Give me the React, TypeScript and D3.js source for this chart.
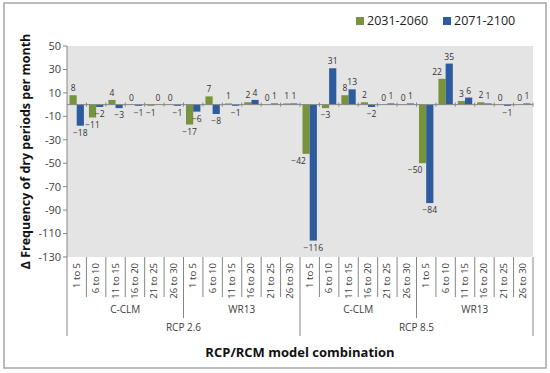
import React from 'react';
import * as d3 from 'd3';

const rcps = ['RCP 2.6', 'RCP 8.5'];
const models = ['C-CLM', 'WR13'];
const classes = ['1 to 5', '6 to 10', '11 to 15', '16 to 20', '21 to 25', '26 to 30'];
const seriesNames = ['2031-2060', '2071-2100'];
const near = [8, -11, 4, 0, -1, 0, -17, 7, 1, 2, 0, 1, -42, -3, 8, 2, 0, 0, -50, 22, 3, 2, 0, 0];
const far = [-18, -2, -3, -1, 0, -1, -6, -8, -1, 4, 1, 1, -116, 31, 13, -2, 1, 1, -84, 35, 6, 1, -1, 1];
const yTicks = [50, 30, 10, -10, -30, -50, -70, -90, -110, -130];
const colors = ['#77933C', '#2D5B9E'];

const W = 550;
const H = 373;
const left = 67;
const right = 533;
const top = 46;
const bottom = 257;

const App = () => {
  const cats: string[] = [];
  rcps.forEach((r) => models.forEach((m) => classes.forEach((c) => cats.push(`${r}|${m}|${c}`))));
  const x = d3.scaleBand().domain(cats).range([left, right]).paddingInner(0).paddingOuter(0);
  const bw = x.bandwidth();
  const inner = d3.scaleBand().domain(seriesNames).range([0, bw]).paddingOuter(0.35).paddingInner(0);
  const y = d3.scaleLinear().domain([-130, 50]).range([bottom, top]);
  const fmt = (v: number) => (v < 0 ? `\u2212${Math.abs(v)}` : `${v}`);
  const font = '"Open Sans", "Noto Sans", sans-serif';
  const series = [near, far];
  const groupW = bw * classes.length;

  return (
    <svg width={W} height={H} style={{ position: 'absolute', left: 0, top: 0 }} fontFamily={font}>
      <rect x={0} y={0} width={W} height={H} fill="#fff" />
      <rect x={4} y={3} width={542} height={365} fill="#fff" stroke="#a6a6a6" strokeWidth={1.5} />
      <rect x={left} y={top} width={right - left} height={bottom - top} fill="#e4e4e4" />

      {/* y axis */}
      <line x1={left} x2={left} y1={top} y2={bottom} stroke="#868686" />
      {yTicks.map((t) => (
        <g key={t}>
          <line x1={left - 4} x2={left} y1={y(t)} y2={y(t)} stroke="#868686" />
          <text x={left - 6} y={y(t)} dy="0.35em" textAnchor="end" fontSize={11} fill="#404040">
            {t}
          </text>
        </g>
      ))}
      <text
        transform={`translate(30,${(top + bottom) / 2}) rotate(-90)`}
        textAnchor="middle"
        fontSize={12.5}
        fontWeight="bold"
        fill="#111"
      >
        Δ Frequency of dry periods per month
      </text>

      {/* bars */}
      {series.map((vals, si) =>
        vals.map((v, i) => {
          const bx = (x(cats[i]) as number) + (inner(seriesNames[si]) as number);
          return (
            <rect
              key={`${si}-${i}`}
              x={bx}
              y={Math.min(y(v), y(0))}
              width={inner.bandwidth()}
              height={Math.abs(y(v) - y(0))}
              fill={colors[si]}
            />
          );
        })
      )}

      {/* zero axis with ticks */}
      <line x1={left} x2={right} y1={y(0)} y2={y(0)} stroke="#868686" />
      {cats.map((c, i) => (
        <line key={c} x1={(x(c) as number) + bw} x2={(x(c) as number) + bw} y1={y(0) - 2} y2={y(0) + 2} stroke="#868686" />
      ))}

      {/* data labels */}
      {series.map((vals, si) =>
        vals.map((v, i) => {
          const cx = (x(cats[i]) as number) + (inner(seriesNames[si]) as number) + inner.bandwidth() / 2;
          const ly = v >= 0 ? y(v) - 4 : y(v) + 10;
          // nudge the first series label left when the neighbouring bar runs past it
          const other = far[i];
          const clash = si === 0 && Math.sign(other) === Math.sign(v) && Math.abs(other) > Math.abs(v) + 5;
          const dx = clash ? -(String(Math.abs(v)).length * 2.5 + (v < 0 ? 2.5 : 0)) : 0;
          return (
            <text key={`l${si}-${i}`} x={cx + dx} y={ly} textAnchor="middle" fontSize={8.5} fill="#333">
              {fmt(v)}
            </text>
          );
        })
      )}

      {/* category axis */}
      {cats.map((c, i) => {
        const cx = (x(c) as number) + bw / 2;
        return (
          <text
            key={`c${c}`}
            transform={`translate(${cx + 3},${bottom + 6}) rotate(-90)`}
            textAnchor="end"
            fontSize={9.5}
            fill="#404040"
          >
            {classes[i % classes.length]}
          </text>
        );
      })}
      {d3.range(cats.length + 1).map((i) => {
        const lx = left + i * bw;
        let y2 = 297;
        if (i % 6 === 0) y2 = 318;
        if (i % 12 === 0) y2 = 336;
        return <line key={`t${i}`} x1={lx} x2={lx} y1={bottom} y2={y2} stroke="#868686" />;
      })}
      {rcps.map((r, ri) =>
        models.map((m, mi) => {
          const gx = left + (ri * 2 + mi) * groupW + groupW / 2;
          return (
            <text key={`${r}${m}`} x={gx} y={313} textAnchor="middle" fontSize={10} fill="#404040">
              {m}
            </text>
          );
        })
      )}
      {rcps.map((r, ri) => (
        <text key={r} x={left + ri * groupW * 2 + groupW} y={331} textAnchor="middle" fontSize={10} fill="#404040">
          {r}
        </text>
      ))}
      <text x={(left + right) / 2} y={357} textAnchor="middle" fontSize={13} fontWeight="bold" fill="#111">
        RCP/RCM model combination
      </text>

      {/* legend */}
      {seriesNames.map((s, si) => {
        const lx = si === 0 ? 356 : 443;
        return (
          <g key={s}>
            <rect x={lx} y={17} width={8} height={8} fill={colors[si]} />
            <text x={lx + 11} y={25} fontSize={12.5} fill="#222">
              {s}
            </text>
          </g>
        );
      })}
    </svg>
  );
};

export default App;
